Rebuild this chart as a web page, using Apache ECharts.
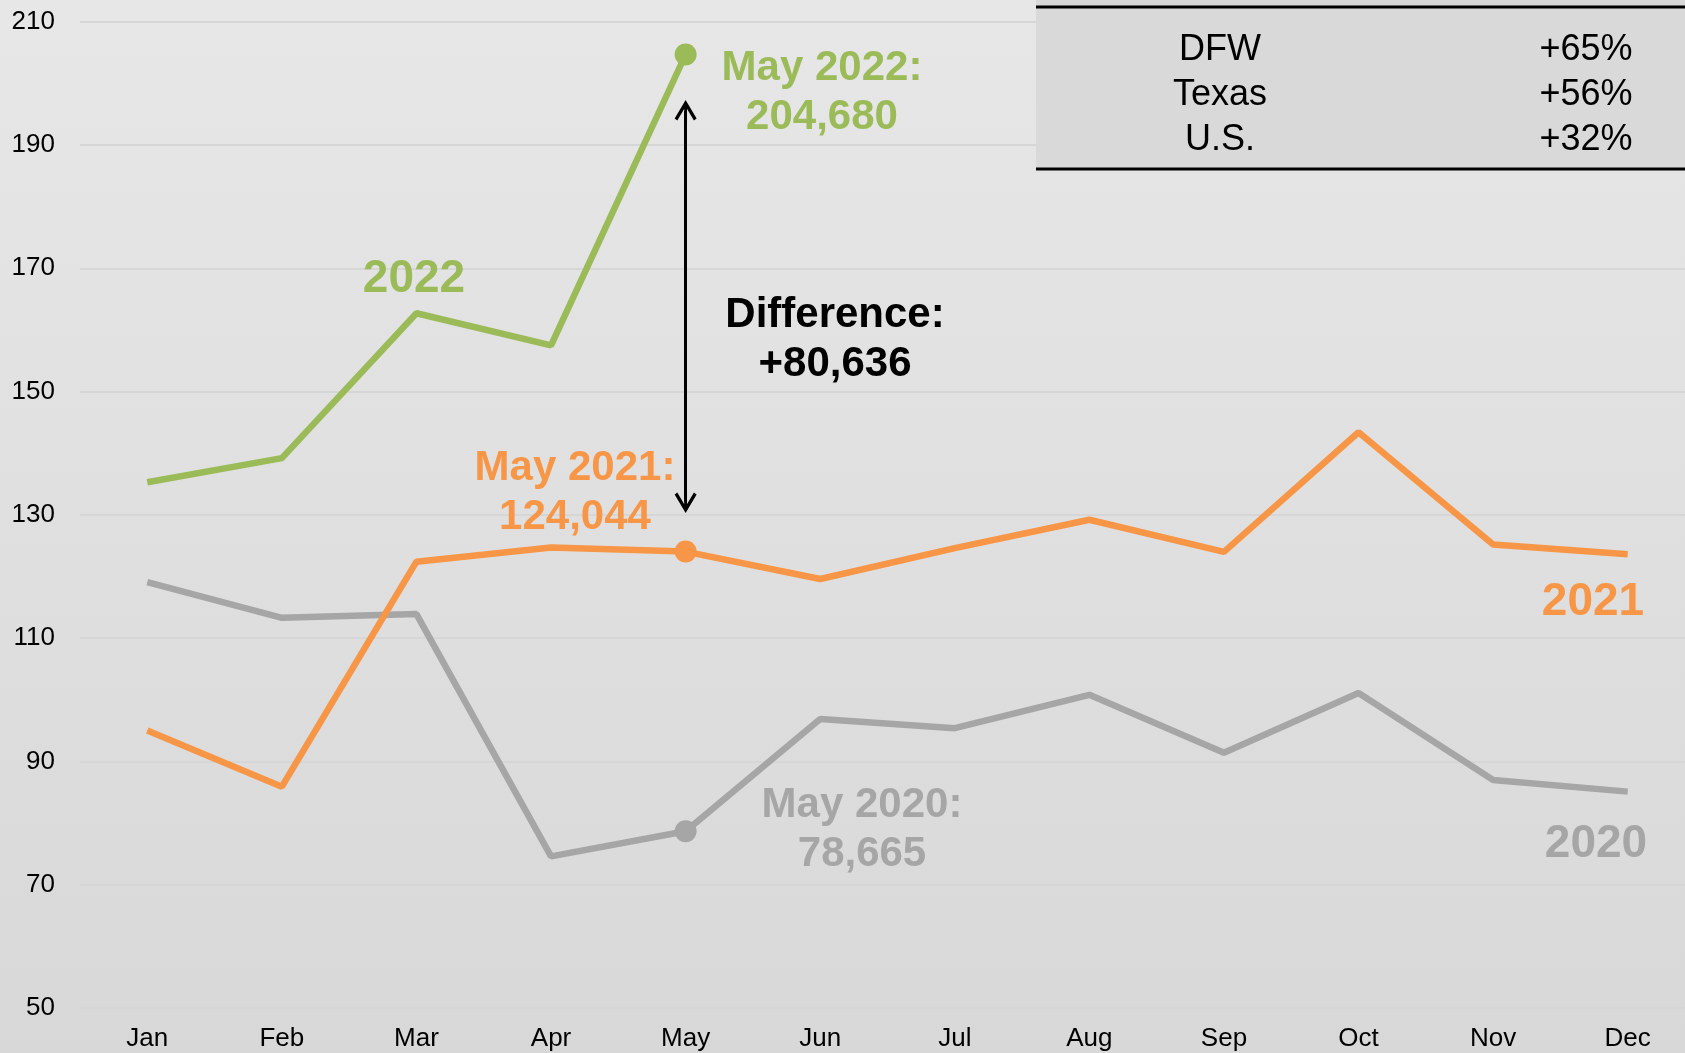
<!DOCTYPE html>
<html>
<head>
<meta charset="utf-8">
<script src="https://cdn.jsdelivr.net/npm/echarts@6/dist/echarts.min.js"></script>
<style>
  html, body { margin: 0; padding: 0; overflow: hidden; }
  #chart { width: 1685px; height: 1053px; }
</style>
</head>
<body>
<div id="chart"></div>
<script>
// values in thousands
const months = ["Jan", "Feb", "Mar", "Apr", "May", "Jun", "Jul", "Aug", "Sep", "Oct", "Nov", "Dec"];
const sales2020 = [119.1, 113.3, 113.9, 74.6, 78.665, 96.9, 95.4, 100.8, 91.4, 101.1, 87.0, 85.1];
const sales2021 = [95.0, 85.9, 122.4, 124.7, 124.044, 119.6, 124.6, 129.2, 124.0, 143.4, 125.2, 123.6];
const sales2022 = [135.3, 139.2, 162.7, 157.5, 204.68];
const yTicks = [50, 70, 90, 110, 130, 150, 170, 190, 210];
const diffArrow = [195.5, 132.1];
const tableRows = ["DFW", "Texas", "U.S."];
const tableValues = ["+65%", "+56%", "+32%"];

const GREEN = "#9BBB59";
const ORANGE = "#F79646";
const GRAY = "#A6A6A6";
const FONT = "'Liberation Sans', Arial, sans-serif";

const chart = echarts.init(document.getElementById("chart"));

// chevron + shaft, apex at top
const arrowHead = "path://M0,18.5 L11,0 L22,18.5 L19.3,20.5 L11,6.5 L2.7,20.5 Z M9.6,2 L12.4,2 L12.4,22 L9.6,22 Z";

function bigText(text, x, y, color, size) {
  return {
    type: "text", x, y: y + 4, z: 20, silent: true,
    style: {
      text, fill: color, font: "bold " + (size || 42) + "px " + FONT,
      align: "center", verticalAlign: "middle", lineHeight: 49,
    },
  };
}

function lineSeries(name, data, color) {
  return {
    name, type: "line", data,
    showAllSymbol: true,
    symbol: "circle",
    symbolSize: (v, p) => (p.dataIndex === 4 ? 22 : 0),
    lineStyle: { color, width: 6.5 },
    itemStyle: { color },
    z: 3,
  };
}

const graphics = [
  { type: "rect", shape: { x: 1036, y: 0, width: 660, height: 169 }, style: { fill: "#d9d9d9" }, z: 10 },
  { type: "line", shape: { x1: 1036, y1: 7, x2: 1690, y2: 7 }, style: { stroke: "#000", lineWidth: 3 }, z: 11 },
  { type: "line", shape: { x1: 1036, y1: 169, x2: 1690, y2: 169 }, style: { stroke: "#000", lineWidth: 3 }, z: 11 },
  bigText("2022", 414, 275, GREEN, 46),
  bigText("May 2022:\n204,680", 822, 89, GREEN),
  bigText("Difference:\n+80,636", 835, 336, "#000"),
  bigText("May 2021:\n124,044", 575, 489, ORANGE),
  bigText("May 2020:\n78,665", 862, 826, GRAY),
  bigText("2021", 1593, 598, ORANGE, 46),
  bigText("2020", 1596, 840, GRAY, 46),
];

tableRows.forEach((r, i) => {
  graphics.push({
    type: "text", x: 1220, y: 50 + i * 45, z: 12, silent: true,
    style: { text: r, fill: "#000", font: "36px " + FONT, align: "center", verticalAlign: "middle" },
  });
  graphics.push({
    type: "text", x: 1586, y: 50 + i * 45, z: 12, silent: true,
    style: { text: tableValues[i], fill: "#000", font: "36px " + FONT, align: "center", verticalAlign: "middle" },
  });
});

const option = {
  animation: false,
  backgroundColor: new echarts.graphic.LinearGradient(0, 0, 0, 1, [
    { offset: 0, color: "#e8e7e8" },
    { offset: 1, color: "#d8d8d8" },
  ]),
  grid: { left: 80, top: 21.7, width: 1615, height: 986.3, outerBoundsMode: "none" },
  xAxis: {
    type: "category",
    data: months,
    boundaryGap: true,
    axisLine: { show: false },
    axisTick: { show: false },
    axisLabel: { color: "#000", fontSize: 26, fontFamily: FONT, margin: 18 },
  },
  yAxis: {
    type: "value",
    min: yTicks[0],
    max: yTicks[yTicks.length - 1],
    interval: 20,
    axisLine: { show: false },
    axisTick: { show: false },
    axisLabel: { color: "#000", fontSize: 26, fontFamily: FONT, margin: 25 },
    splitLine: { lineStyle: { color: "#d6d6d6", width: 2 } },
  },
  series: [
    lineSeries("2020", sales2020, GRAY),
    lineSeries("2021", sales2021, ORANGE),
    Object.assign(lineSeries("2022", sales2022, GREEN), {
      markLine: {
        silent: true,
        symbol: [arrowHead, arrowHead],
        symbolSize: [22, 22],
        lineStyle: { color: "#000", width: 3, type: "solid" },
        label: { show: false },
        data: [[{ coord: ["May", diffArrow[0]] }, { coord: ["May", diffArrow[1]] }]],
      },
    }),
  ],
  graphic: graphics,
};

chart.setOption(option);
</script>
</body>
</html>
